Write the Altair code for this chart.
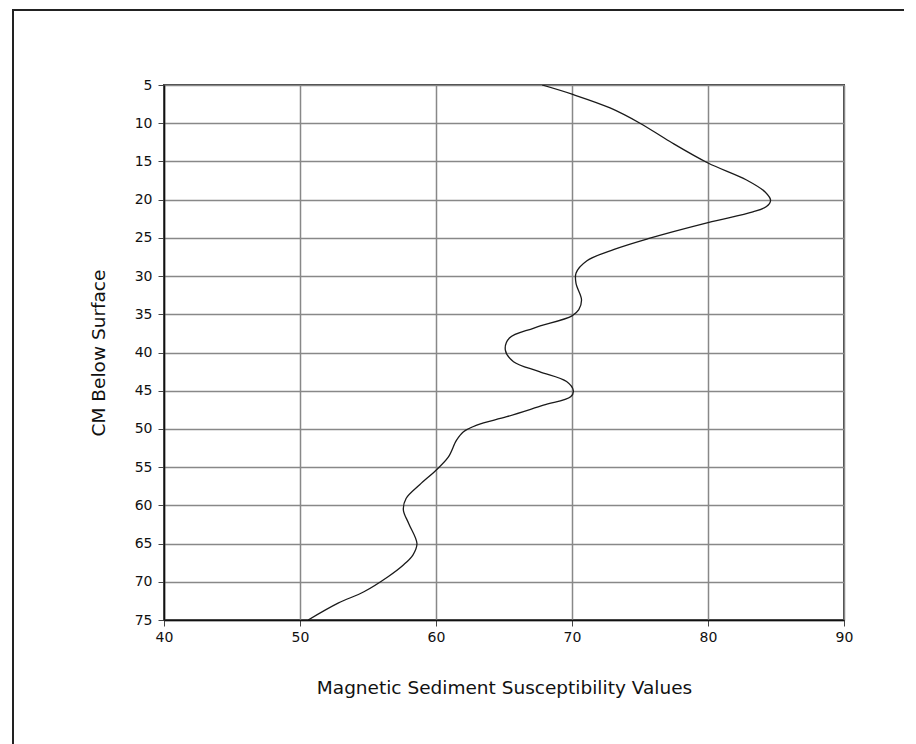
import altair as alt
import pandas as pd

# Magnetic sediment susceptibility (x) vs depth in cm (y)
susceptibility = [67.8, 70.0, 72.8, 75.0, 77.2, 80.0, 82.8, 84.2, 84.6, 84.3,
                  83.3, 80.0, 75.6, 73.1, 71.1, 70.3, 70.3, 70.7, 70.5, 70.0,
                  67.2, 65.4, 65.1, 65.7, 67.6, 69.6, 70.1, 69.9, 67.9, 65.2,
                  63.0, 62.0, 61.5, 60.9, 60.0, 58.8, 57.8, 57.6, 58.0, 58.6,
                  58.3, 57.6, 56.5, 54.7, 52.8, 50.6]
depth = [5.0, 6.2, 8.0, 10.0, 12.4, 15.2, 17.4, 19.0, 20.1, 20.9,
         21.6, 23.0, 25.1, 26.5, 28.0, 29.6, 31.0, 33.1, 34.4, 35.2,
         36.8, 38.1, 39.7, 41.2, 42.5, 43.8, 45.0, 45.8, 46.9, 48.4,
         49.5, 50.4, 51.5, 53.7, 55.4, 57.3, 59.1, 60.6, 62.4, 65.0,
         66.5, 67.8, 69.3, 71.3, 72.8, 75.0]

x_ticks = [40, 50, 60, 70, 80, 90]
y_ticks = [5, 10, 15, 20, 25, 30, 35, 40, 45, 50, 55, 60, 65, 70, 75]

df = pd.DataFrame({"susceptibility": susceptibility, "depth": depth,
                   "order": list(range(len(depth)))})

FONT = "DejaVu Sans"

line = alt.Chart(df).mark_line(
    interpolate="catmull-rom", color="#1a1a1a", strokeWidth=1.3, clip=True
).encode(
    x=alt.X("susceptibility:Q",
            scale=alt.Scale(domain=[40, 90], nice=False, zero=False),
            axis=alt.Axis(values=x_ticks, title="Magnetic Sediment Susceptibility Values",
                          titlePadding=34, labelPadding=4, labelFlush=False)),
    y=alt.Y("depth:Q",
            scale=alt.Scale(domain=[5, 75], reverse=True, nice=False, zero=False),
            axis=alt.Axis(values=y_ticks, title="CM Below Surface",
                          titlePadding=26, labelPadding=6, labelFlush=False)),
    order="order:Q",
)

frame_df = pd.DataFrame({"a": [0]})
frame_top = alt.Chart(frame_df).mark_rule(color="#222", strokeWidth=2).encode(
    x=alt.value(-152), x2=alt.value(780), y=alt.value(-75))
frame_left = alt.Chart(frame_df).mark_rule(color="#222", strokeWidth=2).encode(
    x=alt.value(-151), y=alt.value(-76), y2=alt.value(700))

chart = alt.layer(frame_top, frame_left, line).properties(
    width=680, height=535,
    background="white",
    autosize=alt.AutoSizeParams(type="none"),
    padding={"left": 156, "top": 77, "right": 60, "bottom": 140},
).configure_view(
    stroke="#444", strokeWidth=2
).configure_axis(
    grid=True, gridColor="#888", gridWidth=1.5, gridOpacity=1,
    domainColor="#111", domainWidth=1.5,
    tickColor="#444", tickSize=6, tickWidth=1,
    labelFont=FONT, labelFontSize=14, labelColor="#111",
    titleFont=FONT, titleFontSize=18.5, titleFontWeight="normal", titleColor="#111",
)

chart.save("out.html", embed_options={"renderer": "svg", "actions": False})
